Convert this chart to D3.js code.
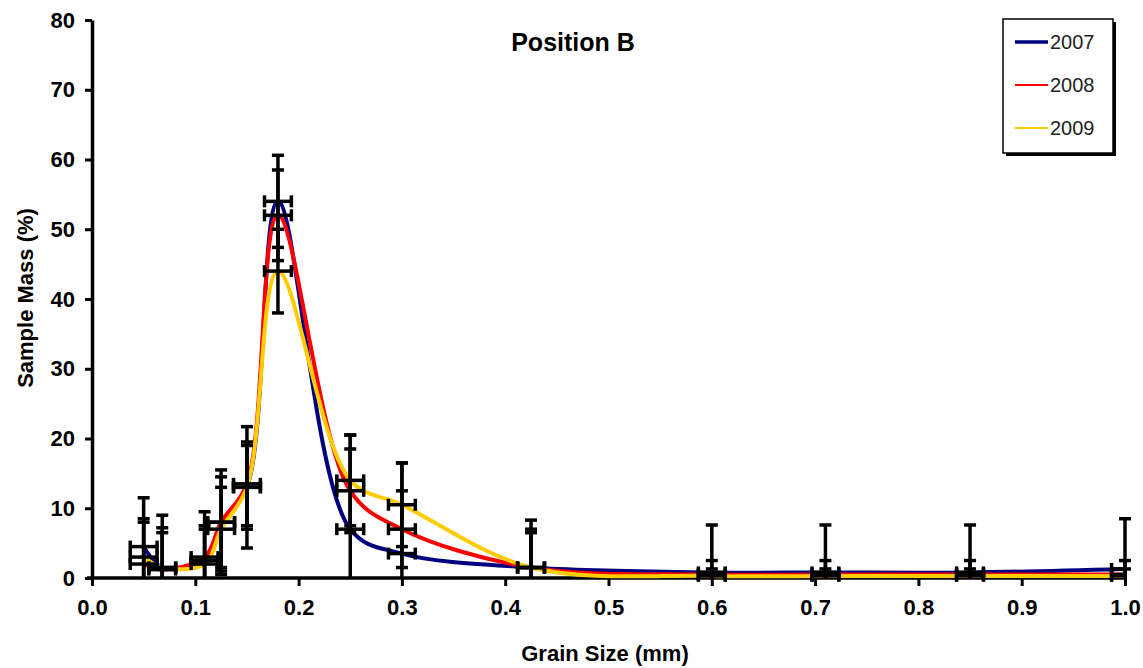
<!DOCTYPE html>
<html lang="en">
<head>
<meta charset="utf-8">
<title>Position B</title>
<script src="https://cdn.jsdelivr.net/npm/d3@7"></script>
<style>
  body { margin: 0; background: #fff; }
  text { font-family: "Liberation Sans", Arial, sans-serif; }
</style>
</head>
<body>
<script>
// grain size (mm) of each sieve
var grainSize = [0.05, 0.068, 0.109, 0.125, 0.15, 0.18, 0.25, 0.3, 0.425, 0.6, 0.71, 0.85, 1.0];

var mass2007 = [4.5, 1.5, 2.5, 8, 13, 54, 7, 3.5, 1.5, 0.8, 0.8, 0.8, 1.3];
var mass2008 = [2, 1.2, 3, 8, 13.5, 52, 12.5, 7, 1.5, 0.5, 0.5, 0.5, 0.5];
var mass2009 = [3, 1.5, 2, 7, 13, 44, 14, 10.5, 1.5, 0.3, 0.3, 0.3, 0.3];

var err2007 = [7, 7.5, 5, 7.5, 8.7, 6.6, 13.5, 13, 6.8, 6.8, 6.8, 6.8, 7.2];
var err2008 = [6.5, 6, 6.5, 6.5, 6, 6.5, 6, 5.5, 5.5, 2, 2, 2, 2];
var err2009 = [5, 5, 5, 6, 6, 6, 6.5, 6, 5, 1, 1, 1, 1];
var xErr = 0.013;

var years = ["2007", "2008", "2009"];
var colors = ["#000080", "#ff0000", "#ffcc00"];
var xTicks = [0, 0.1, 0.2, 0.3, 0.4, 0.5, 0.6, 0.7, 0.8, 0.9, 1.0];
var yTicks = [0, 10, 20, 30, 40, 50, 60, 70, 80];

var width = 1143, height = 668;
var margin = {top: 20, right: 18, bottom: 90, left: 92};

var svg = d3.select("body").append("svg")
    .attr("width", width)
    .attr("height", height);

var x = d3.scaleLinear().domain([0, 1]).range([margin.left, width - margin.right]);
var y = d3.scaleLinear().domain([0, 80]).range([height - margin.bottom, margin.top]);

var series = [
  {name: years[0], color: colors[0], values: mass2007, err: err2007},
  {name: years[1], color: colors[1], values: mass2008, err: err2008},
  {name: years[2], color: colors[2], values: mass2009, err: err2009}
];

// axes
var yAxis = svg.append("g")
    .attr("transform", "translate(" + margin.left + ",0)")
    .call(d3.axisLeft(y).tickValues(yTicks).tickFormat(d3.format("d")).tickSize(7).tickSizeOuter(0).tickPadding(10));

var xAxis = svg.append("g")
    .attr("transform", "translate(0," + y(0) + ")")
    .call(d3.axisBottom(x).tickValues(xTicks).tickFormat(d3.format(".1f")).tickSize(8).tickSizeOuter(0).tickPadding(13));

[xAxis, yAxis].forEach(function(a) {
  a.select(".domain").attr("stroke", "#000").attr("stroke-width", 3.5);
  a.selectAll(".tick line").attr("stroke", "#000").attr("stroke-width", 3);
  a.selectAll(".tick text")
    .attr("fill", "#000")
    .style("font-size", "22px")
    .style("font-weight", "bold");
});
// x axis line reaches a bit left of the y axis
xAxis.select(".domain").attr("d", "M" + (margin.left - 5) + ",0H" + (width - margin.right));

// lines
var line = d3.line()
    .x(function(d) { return x(d[0]); })
    .y(function(d) { return y(d[1]); })
    .curve(d3.curveCatmullRom.alpha(0.5));

var plot = svg.append("g");

series.forEach(function(s) {
  var pts = grainSize.map(function(g, i) { return [g, s.values[i]]; });
  plot.append("path")
    .datum(pts)
    .attr("fill", "none")
    .attr("stroke", s.color)
    .attr("stroke-width", 4)
    .attr("d", line);
});

// error bars
var bars = svg.append("g").attr("stroke", "#000").attr("stroke-width", 3.5);
var cap = 6;
series.forEach(function(s) {
  grainSize.forEach(function(g, i) {
    var v = s.values[i];
    var lo = Math.max(0, v - s.err[i]), hi = v + s.err[i];
    var cx = x(g), cy = y(v);
    bars.append("line").attr("x1", cx).attr("x2", cx).attr("y1", y(lo)).attr("y2", y(hi));
    bars.append("line").attr("x1", cx - cap).attr("x2", cx + cap).attr("y1", y(hi)).attr("y2", y(hi));
    if (lo > 0) bars.append("line").attr("x1", cx - cap).attr("x2", cx + cap).attr("y1", y(lo)).attr("y2", y(lo));
    // horizontal error bar
    var xl = x(g - xErr), xr = x(Math.min(1, g + xErr));
    bars.append("line").attr("x1", xl).attr("x2", xr).attr("y1", cy).attr("y2", cy);
    bars.append("line").attr("x1", xl).attr("x2", xl).attr("y1", cy - cap).attr("y2", cy + cap);
    if (g + xErr <= 1) bars.append("line").attr("x1", xr).attr("x2", xr).attr("y1", cy - cap).attr("y2", cy + cap);
  });
});

// title and axis labels
svg.append("text")
    .attr("x", 573).attr("y", 51)
    .attr("text-anchor", "middle")
    .style("font-size", "25px").style("font-weight", "bold")
    .text("Position B");

svg.append("text")
    .attr("x", 605).attr("y", 661)
    .attr("text-anchor", "middle")
    .style("font-size", "22px").style("font-weight", "bold")
    .text("Grain Size (mm)");

svg.append("text")
    .attr("transform", "translate(33,298) rotate(-90)")
    .attr("text-anchor", "middle")
    .style("font-size", "22px").style("font-weight", "bold")
    .text("Sample Mass (%)");

// legend
var lg = svg.append("g").attr("transform", "translate(1003,19)");
lg.append("rect").attr("x", 3).attr("y", 3).attr("width", 110).attr("height", 134).attr("fill", "#000");
lg.append("rect").attr("width", 110).attr("height", 134).attr("fill", "#fff").attr("stroke", "#000").attr("stroke-width", 1.5);
series.forEach(function(s, i) {
  var row = lg.append("g").attr("transform", "translate(0," + (23 + i * 43) + ")");
  row.append("line").attr("x1", 12).attr("x2", 45).attr("stroke", s.color).attr("stroke-width", i === 0 ? 3.5 : 2);
  row.append("text").attr("x", 47).attr("y", 7)
    .style("font-size", "20px").attr("fill", "#222")
    .text(s.name);
});
</script>
</body>
</html>
